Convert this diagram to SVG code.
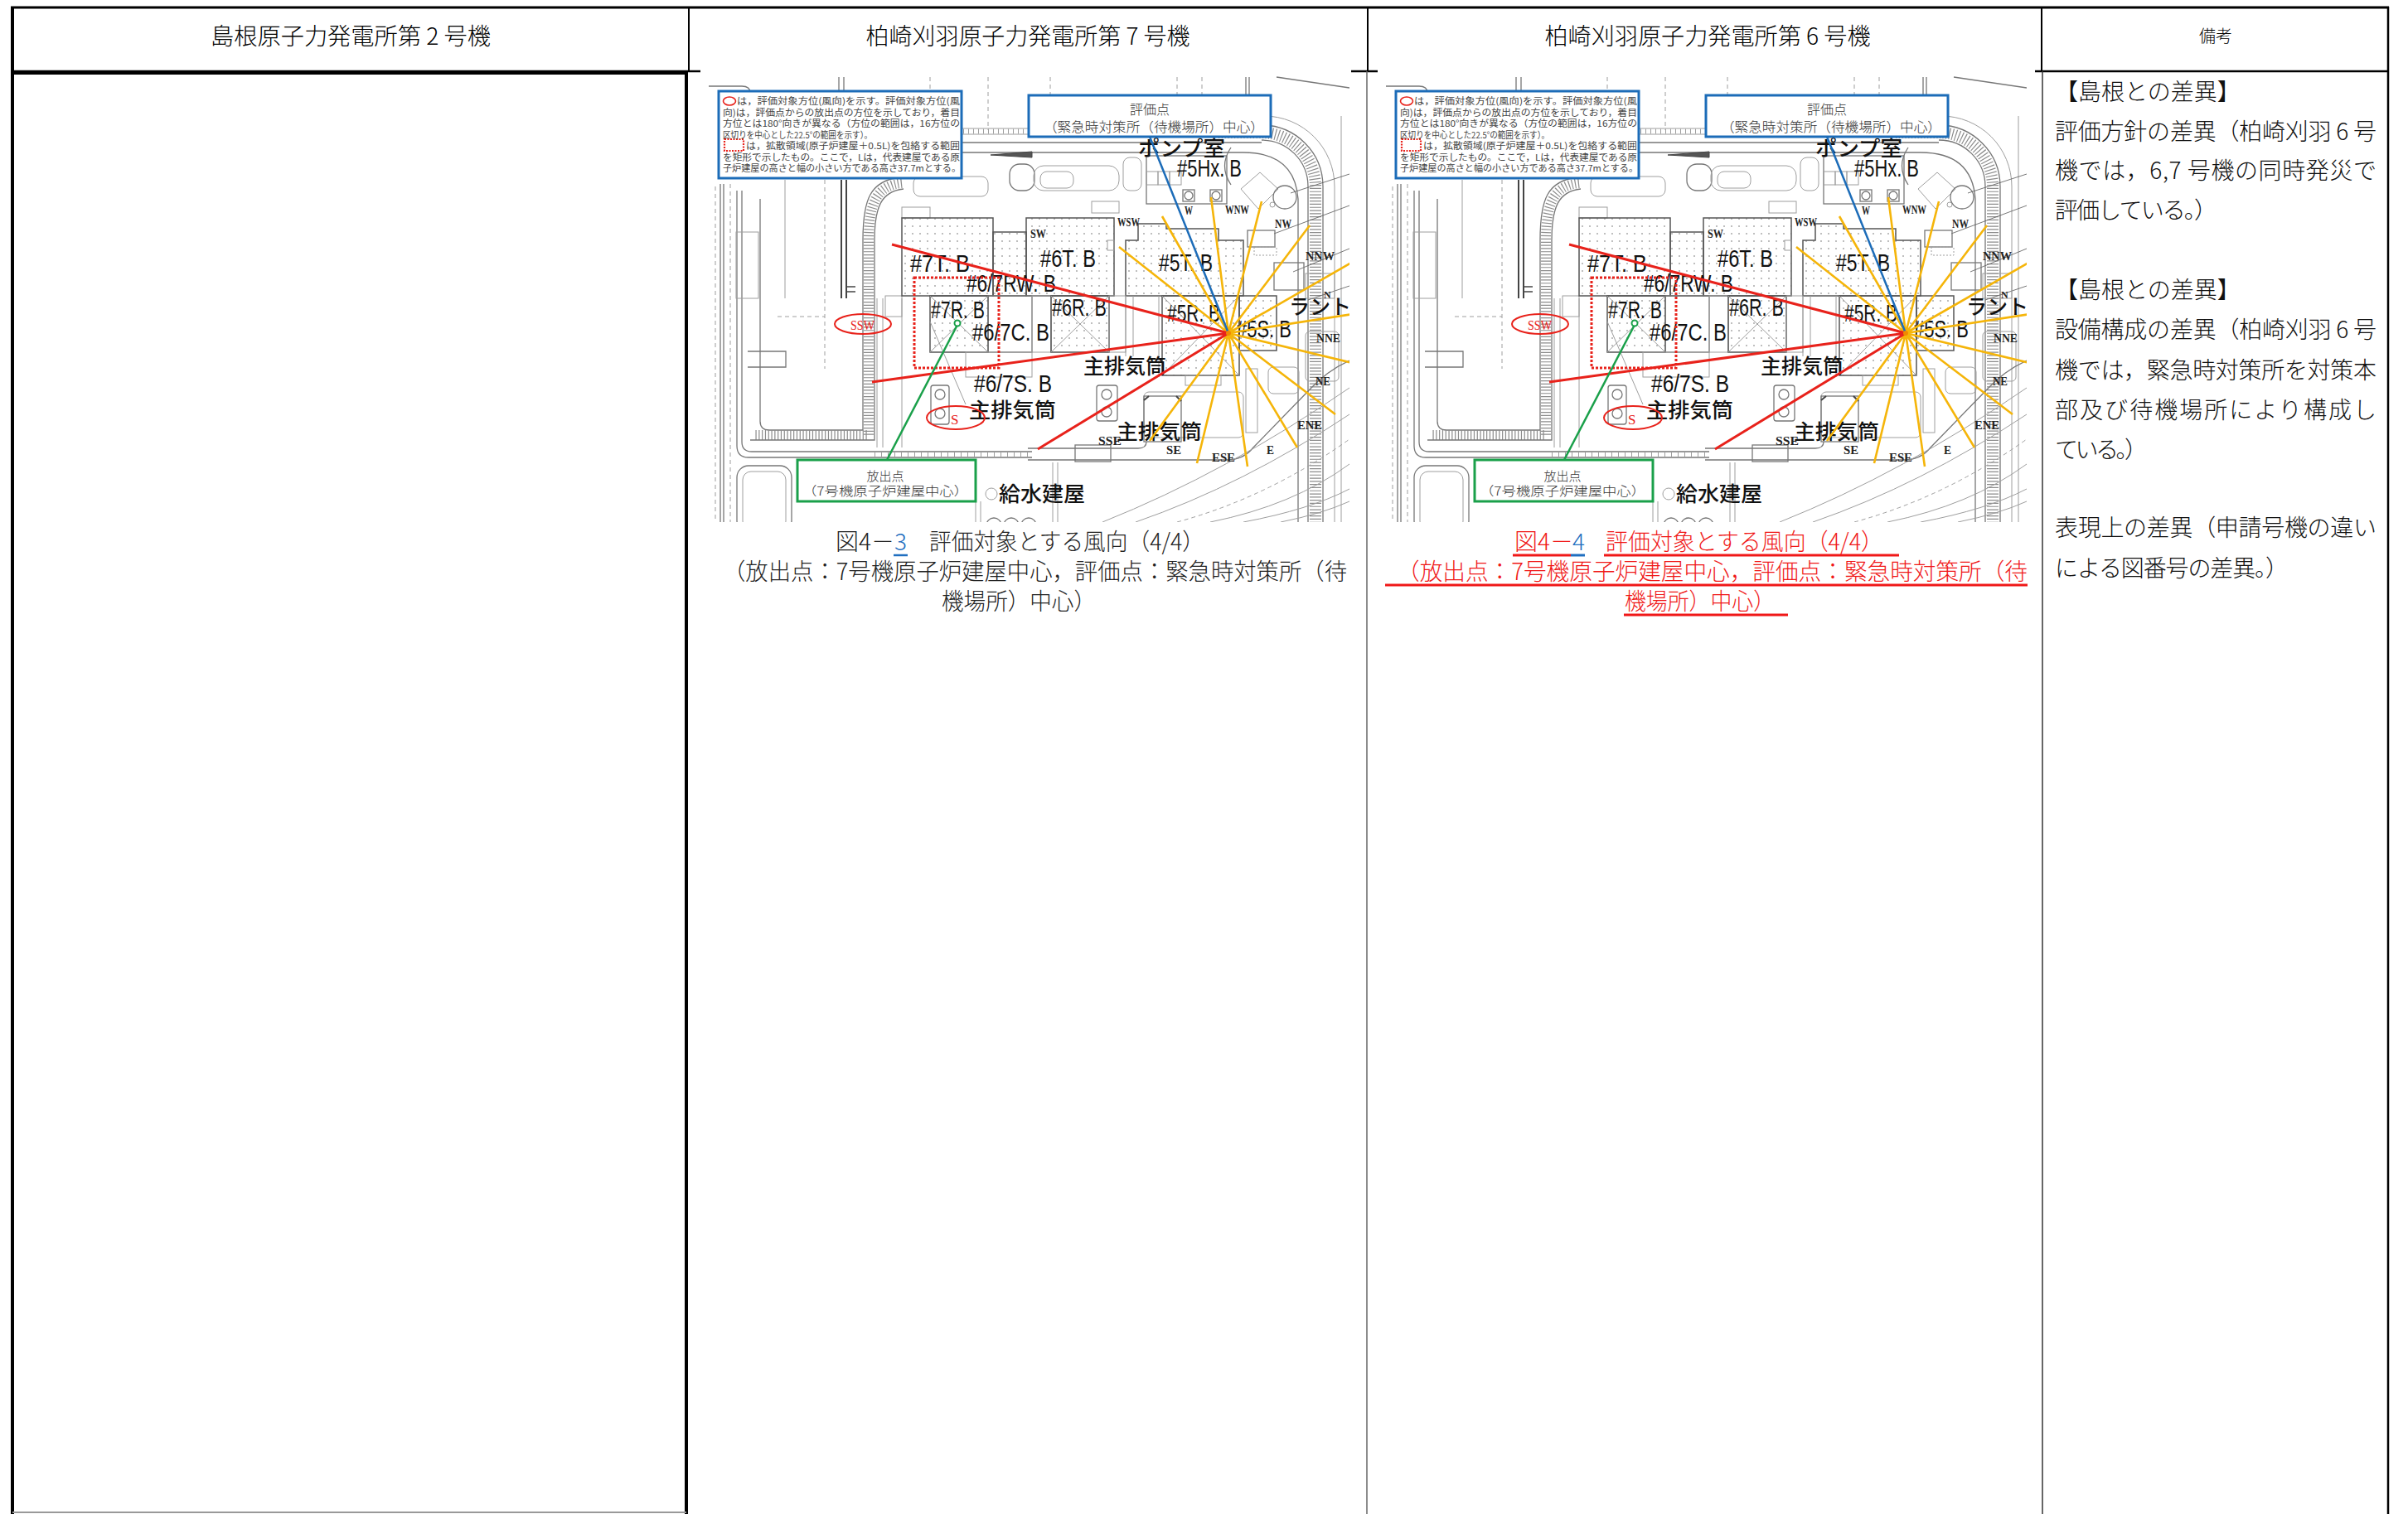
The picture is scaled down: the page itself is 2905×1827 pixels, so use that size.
<svg xmlns="http://www.w3.org/2000/svg" width="2905" height="1827" viewBox="0 0 2905 1827">
<defs>
<style>
.jp{font-family:"Noto Sans CJK JP","Noto Sans",sans-serif}
.hd{font-size:28px;fill:#000;text-anchor:middle;font-weight:300}
.rm{font-size:28px;fill:#111;font-weight:300}
.cap{font-size:28px;fill:#222;font-weight:300}
.capr{font-size:28px;fill:#f01818;font-weight:300}
.blu{fill:#1f6fc0}
.lg{font-size:11px;fill:#444}
.bx{font-size:16px;fill:#333;text-anchor:middle;font-weight:300}
.bl{font-family:"Liberation Sans",sans-serif;font-size:29px;fill:#111}
.jl{font-size:25px;fill:#111;font-weight:500}
.dr{font-family:"Liberation Serif",serif;font-weight:bold;font-size:14px;fill:#222}
.drr{font-family:"Liberation Serif",serif;font-size:17px;fill:#e8221b}
.c1{fill:none;stroke:#777;stroke-width:1.3}
.c2{fill:none;stroke:#9e9e9e;stroke-width:1}
.cd{fill:none;stroke:#9e9e9e;stroke-width:1;stroke-dasharray:5 4}
.dk{fill:none;stroke:#444;stroke-width:2}
.hatch{fill:none;stroke:#8c8c8c;stroke-width:12;stroke-dasharray:1.2 2.6}
.bld{fill:url(#dots);stroke:#555;stroke-width:1.5}
.rl{stroke:#e8221b;stroke-width:3;fill:none}
.yl{stroke:#f5b50a;stroke-width:2.6;fill:none}
.bln{stroke:#1c6cb8;stroke-width:2.5;fill:none}
.gl{stroke:#1aa04a;stroke-width:2.5;fill:none}
.tb{stroke:#000;fill:none}
</style>
<pattern id="dots" width="9" height="9" patternUnits="userSpaceOnUse">
<circle cx="3" cy="3" r="0.9" fill="#a0a0a0"/>
</pattern>
<clipPath id="mapclip"><rect x="845" y="88" width="783" height="542"/></clipPath>
<g id="map">
<g clip-path="url(#mapclip)">
<g id="cad">
<path class="c1" d="M855,104 H895 Q905,104 905,112"/>
<path class="c1" d="M1012,93 V110 M1018,93 V110"/>
<path class="cd" d="M1122,93 V157 M1192,93 V157 M1267,93 V115 M1420,93 V115 M1450,93 V115"/>
<path class="c1" d="M1503,93 V152 M1507,93 V150"/>
<path class="c1" d="M1540,93 L1628,106"/>
<path class="cd" d="M863,225 V630 M881,222 V630"/>
<path class="c1" d="M869,222 V630 M873,222 V630"/>
<path class="c1" d="M889,230 V538 Q889,552 903,552 H1245"/>
<path class="c1" d="M895,230 V533 Q895,545 907,545 H1245"/>
<path class="c2" d="M1055,548.5 H1245" style="stroke-dasharray:1 7;stroke-width:6"/>
<rect class="c2" x="888" y="280" width="27" height="80"/>
<path class="c1" d="M917,240 V508 Q917,519 928,519 H1041"/>
<path class="c2" d="M947,217 V360"/>
<path class="cd" d="M995,217 V382 M938,382 H995 V445"/>
<path class="hatch" d="M1088,221 C1058,224 1048,245 1048,290 V525 H910"/>
<path class="c1" d="M1086,214 C1050,218 1041,240 1041,290 V519"/>
<path class="c1" d="M1090,228 C1063,231 1055,250 1055,290 V531 H905"/>
<path class="dk" d="M1015,217 V360 M1021,217 V360"/>
<path class="c1" d="M902,424 H948 V443 H902"/>
<rect class="c1" x="889" y="562" width="66" height="80" rx="14"/>
<rect class="c2" x="896" y="569" width="52" height="70" rx="10"/>
<path class="c2" d="M1058,360 V540 M1065,360 V540 M1088,360 V540"/>
<rect class="c2" x="1068" y="357" width="20" height="25"/>
<path class="dk" d="M1020,346 H1032 M1020,352 H1032" style="stroke-width:1.5"/>
<path class="c2" d="M1072,155 H1245 M1072,162 H1245"/>
<path class="c2" d="M1072,158.5 H1245" style="stroke-dasharray:1 5;stroke-width:6"/>
<path class="c1" d="M1086,214 Q1105,178 1160,172 H1522"/>
<path class="c1" d="M1160,184 H1500 Q1562,184 1566,240 V630"/>
<path class="dk" d="M1195,187 L1245,183 L1245,190 Z" style="fill:#555;stroke-width:1"/>
<path class="hatch" d="M1470,160 H1522 A65,65 0 0 1 1587,225 V630" style="stroke-width:14"/>
<path class="c1" d="M1522,169 A56,56 0 0 1 1578,225 V630"/>
<path class="c1" d="M1480,151 H1522 A74,74 0 0 1 1596,225 V630"/>
<path class="c2" d="M1505,140 H1525 A85,85 0 0 1 1610,225 V630"/>
<path class="c2" d="M1618,140 V630"/>
<rect class="c2" x="1102" y="213" width="90" height="24" rx="8"/>
<rect class="c1" x="1218" y="198" width="30" height="32" rx="12"/>
<rect class="c2" x="1247" y="200" width="103" height="30" rx="12"/>
<rect class="c2" x="1255" y="207" width="40" height="20" rx="8"/>
<rect class="c2" x="1355" y="190" width="22" height="40" rx="8"/>
<rect class="c2" x="1088" y="250" width="34" height="13"/>
<rect class="c2" x="1317" y="243" width="33" height="14"/>
<rect class="c1" x="1383" y="188" width="97" height="58"/>
<rect class="c2" x="1383" y="207" width="14" height="16"/>
<rect class="c2" x="1397" y="207" width="14" height="16"/>
<rect class="c2" x="1411" y="207" width="14" height="16"/>
<rect class="c1" x="1427" y="229" width="14" height="14"/>
<circle class="c1" cx="1434" cy="236" r="5"/>
<rect class="c1" x="1460" y="229" width="14" height="14"/>
<circle class="c1" cx="1467" cy="236" r="5"/>
<path class="c1" d="M1485,178 Q1470,200 1485,223"/>
<polygon class="c2" points="1497,228 1520,208 1542,228 1518,252"/>
<circle class="c1" cx="1550" cy="238" r="14"/>
<circle class="c2" cx="1535" cy="247" r="3"/>
<path d="M1557,233 L1628,210 M1537,282 L1628,248 M1560,328 L1628,300 M1578,362 L1628,345" stroke="#555" stroke-width="0.8" fill="none"/>
<rect class="c1" x="1505" y="278" width="33" height="20"/>
<rect class="c2" x="1513" y="298" width="27" height="10" style="stroke-dasharray:2 2"/>
<rect class="c1" x="1537" y="317" width="36" height="33"/>
<rect class="c2" x="1575" y="330" width="35" height="30"/>
<rect class="c2" x="1575" y="400" width="40" height="60" rx="5"/>
</g>
<g id="buildings">
<rect class="bld" x="1088" y="263" width="110" height="94"/>
<rect class="bld" x="1198" y="280" width="40" height="77"/>
<rect class="bld" x="1238" y="263" width="106" height="94"/>
<rect class="c2" x="1336" y="290" width="8" height="12"/>
<polygon class="bld" points="1358,290 1373,290 1373,270 1407,270 1407,276 1470,276 1470,290 1500,290 1500,357 1358,357"/>
<rect class="bld" x="1122" y="357" width="70" height="68"/>
<path class="c2" d="M1122,357 L1192,425 M1192,357 L1122,425 M1122,388 L1165,488"/>
<rect class="c1" x="1192" y="357" width="53" height="68"/>
<rect class="c2" x="1245" y="357" width="23" height="68"/>
<rect class="bld" x="1268" y="357" width="70" height="68"/>
<path class="c2" d="M1268,357 L1338,425 M1338,357 L1268,425"/>
<rect class="c2" x="1338" y="357" width="20" height="68"/>
<path class="c2" d="M1358,357 V430 M1367,357 V430 M1398,357 V455"/>
<rect class="bld" x="1402" y="357" width="93" height="96"/>
<path class="c2" d="M1402,357 L1495,453 M1495,357 L1402,453"/>
<rect class="bld" x="1495" y="357" width="45" height="66"/>
<rect class="c2" x="1165" y="425" width="80" height="30"/>
<rect class="c2" x="1430" y="453" width="43" height="12"/>
<rect class="c1" x="1123" y="465" width="22" height="47" rx="3"/>
<circle class="c1" cx="1134" cy="476" r="6"/>
<circle class="c1" cx="1134" cy="499" r="6"/>
<rect class="c1" x="1323" y="465" width="25" height="43" rx="3"/>
<circle class="c1" cx="1335" cy="476" r="6"/>
<circle class="c1" cx="1335" cy="497" r="6"/>
<rect class="c2" x="1380" y="473" width="120" height="55" rx="6"/>
<rect class="c1" x="1380" y="478" width="45" height="55"/>
<path class="dk" d="M1380,483 L1386,478 M1419,478 L1425,484"/>
<rect class="c2" x="1503" y="445" width="14" height="77"/>
<rect class="c2" x="1530" y="443" width="37" height="32" rx="6"/>
<rect class="c1" x="1297" y="537" width="43" height="20"/>
<path class="c1" d="M1240,541 H1373 Q1383,541 1383,533"/>
<path class="c1" d="M1240,555 H1480 Q1500,555 1512,540 L1580,470 Q1600,448 1628,435"/>
<path class="c2" d="M1330,630 Q1480,570 1628,468"/>
<path class="c2" d="M1370,630 Q1500,585 1628,500"/>
<path class="cd" d="M1420,630 Q1530,600 1628,530"/>
<path class="c2" d="M1460,630 Q1560,610 1628,560"/>
<path class="c2" d="M1500,630 Q1580,615 1628,590"/>
<path class="c2" d="M1545,630 Q1595,620 1628,605"/>
<path class="c2" d="M1270,558 V630 M1276,558 V630 M1177,605 V630 M1183,605 V630"/>
<circle class="c1" cx="1199" cy="634" r="9"/>
<circle class="c1" cx="1220" cy="634" r="9"/>
<circle class="c1" cx="1241" cy="634" r="9"/>
<circle class="c2" cx="1196" cy="596" r="7"/>
</g>
<g id="labels">
<text class="bl" x="1098" y="328" textLength="72" lengthAdjust="spacingAndGlyphs">#7T. B</text>
<text class="bl" x="1166" y="352" textLength="108" lengthAdjust="spacingAndGlyphs">#6/7RW. B</text>
<text class="bl" x="1255" y="322" textLength="67" lengthAdjust="spacingAndGlyphs">#6T. B</text>
<text class="bl" x="1398" y="327" textLength="65" lengthAdjust="spacingAndGlyphs">#5T. B</text>
<text class="bl" x="1420" y="213" textLength="78" lengthAdjust="spacingAndGlyphs">#5Hx. B</text>
<text class="bl" x="1123" y="384" textLength="65" lengthAdjust="spacingAndGlyphs">#7R. B</text>
<text class="bl" x="1173" y="411" textLength="93" lengthAdjust="spacingAndGlyphs">#6/7C. B</text>
<text class="bl" x="1269" y="381" textLength="66" lengthAdjust="spacingAndGlyphs">#6R. B</text>
<text class="bl" x="1408" y="388" textLength="64" lengthAdjust="spacingAndGlyphs">#5R. B</text>
<text class="bl" x="1492" y="407" textLength="66" lengthAdjust="spacingAndGlyphs">#5S. B</text>
<text class="bl" x="1175" y="473" textLength="94" lengthAdjust="spacingAndGlyphs">#6/7S. B</text>
<text class="jp jl" x="1373" y="188" textLength="105" lengthAdjust="spacingAndGlyphs">ポンプ室</text>
<text class="jp jl" x="1307" y="451" textLength="100" lengthAdjust="spacingAndGlyphs">主排気筒</text>
<text class="jp jl" x="1347" y="530" textLength="103" lengthAdjust="spacingAndGlyphs">主排気筒</text>
<text class="jp jl" x="1169" y="504" textLength="105" lengthAdjust="spacingAndGlyphs">主排気筒</text>
<text class="jp jl" x="1205" y="605" textLength="104" lengthAdjust="spacingAndGlyphs">給水建屋</text>
<text class="jp jl" x="1555" y="379" textLength="75" lengthAdjust="spacingAndGlyphs">ラント</text>
<text class="dr" x="1243" y="287" textLength="19" lengthAdjust="spacingAndGlyphs">SW</text>
<text class="dr" x="1348" y="273" textLength="27" lengthAdjust="spacingAndGlyphs">WSW</text>
<text class="dr" x="1429" y="259" textLength="10" lengthAdjust="spacingAndGlyphs">W</text>
<text class="dr" x="1478" y="258" textLength="29" lengthAdjust="spacingAndGlyphs">WNW</text>
<text class="dr" x="1538" y="275" textLength="20" lengthAdjust="spacingAndGlyphs">NW</text>
<text class="dr" x="1575" y="314" textLength="35" lengthAdjust="spacingAndGlyphs">NNW</text>
<text class="dr" x="1597" y="360" style="font-size:12px">N</text>
<text class="dr" x="1588" y="413" textLength="29" lengthAdjust="spacingAndGlyphs">NNE</text>
<text class="dr" x="1587" y="465" textLength="18" lengthAdjust="spacingAndGlyphs">NE</text>
<text class="dr" x="1565" y="518" textLength="30" lengthAdjust="spacingAndGlyphs">ENE</text>
<text class="dr" x="1528" y="548" textLength="9" lengthAdjust="spacingAndGlyphs">E</text>
<text class="dr" x="1462" y="557" textLength="28" lengthAdjust="spacingAndGlyphs">ESE</text>
<text class="dr" x="1407" y="548" textLength="18" lengthAdjust="spacingAndGlyphs">SE</text>
<text class="dr" x="1325" y="537" textLength="28" lengthAdjust="spacingAndGlyphs">SSE</text>
<ellipse cx="1041" cy="391" rx="34" ry="12" fill="none" stroke="#e8221b" stroke-width="2"/>
<text class="drr" x="1026" y="398" textLength="29" lengthAdjust="spacingAndGlyphs">SSW</text>
<ellipse cx="1153" cy="504" rx="35" ry="14" fill="none" stroke="#e8221b" stroke-width="2"/>
<text class="drr" x="1147" y="512">S</text>
<rect x="1103" y="335" width="102" height="109" fill="none" stroke="#e8221b" stroke-width="3" stroke-dasharray="3 2"/>
</g>
<g id="connectors">
<path class="yl" d="M1482,402 L1350,298 M1482,402 L1402,261 M1482,402 L1461,238 M1482,402 L1522,243 M1482,402 L1580,272 M1482,402 L1632,316 M1482,402 L1632,379 M1482,402 L1632,438 M1482,402 L1611,500 M1482,402 L1565,540 M1482,402 L1505,563 M1482,402 L1444,559 M1482,402 L1387,532"/>
<path class="rl" d="M1076,295 L1482,402 M1052,461 L1482,402 M1252,542 L1482,402"/>
<path class="bln" d="M1387,165 L1482,402"/>
<path class="gl" d="M1070,555 L1155,392"/>
<circle cx="1155" cy="390" r="3.5" fill="#fff" stroke="#1aa04a" stroke-width="2"/>
<circle cx="1482" cy="402" r="3" fill="#f08a00"/>
</g>
<g id="legend">
<rect x="867" y="110" width="293" height="105" fill="#fff" stroke="#1c6cb8" stroke-width="3"/>
<ellipse cx="880" cy="122" rx="7.5" ry="5" fill="none" stroke="#e8221b" stroke-width="1.6"/>
<rect x="874" y="168" width="23" height="14" fill="none" stroke="#e8221b" stroke-width="2.2" stroke-dasharray="2 1.5"/>
<text class="jp lg" x="889" y="126" textLength="269" lengthAdjust="spacingAndGlyphs">は，評価対象方位(風向)を示す。評価対象方位(風</text>
<text class="jp lg" x="872" y="139.5" textLength="286" lengthAdjust="spacingAndGlyphs">向)は，評価点からの放出点の方位を示しており，着目</text>
<text class="jp lg" x="872" y="153" textLength="286" lengthAdjust="spacingAndGlyphs">方位とは180°向きが異なる（方位の範囲は，16方位の</text>
<text class="jp lg" x="872" y="166.5" textLength="180" lengthAdjust="spacingAndGlyphs">区切りを中心とした22.5°の範囲を示す）。</text>
<text class="jp lg" x="900" y="180" textLength="258" lengthAdjust="spacingAndGlyphs">は，拡散領域(原子炉建屋＋0.5L)を包絡する範囲</text>
<text class="jp lg" x="872" y="193.5" textLength="286" lengthAdjust="spacingAndGlyphs">を矩形で示したもの。ここで，Lは，代表建屋である原</text>
<text class="jp lg" x="872" y="207" textLength="287" lengthAdjust="spacingAndGlyphs">子炉建屋の高さと幅の小さい方である高さ37.7mとする。</text>
</g>
<g id="eval-point">
<rect x="1241" y="115" width="292" height="50" fill="#fff" stroke="#1c6cb8" stroke-width="3"/>
<text class="jp bx" x="1387" y="138">評価点</text>
<text class="jp bx" x="1392" y="159" textLength="266" lengthAdjust="spacingAndGlyphs">（緊急時対策所（待機場所）中心）</text>
</g>
<g id="release-point">
<rect x="962" y="555" width="215" height="50" fill="#fff" stroke="#1aa04a" stroke-width="3"/>
<text class="jp bx" x="1068" y="580" style="font-size:15px">放出点</text>
<text class="jp bx" x="1068" y="598" style="font-size:15px" textLength="200" lengthAdjust="spacingAndGlyphs">（7号機原子炉建屋中心）</text>
</g>
</g>
</g>
</defs>
<rect x="0" y="0" width="2905" height="1827" fill="#fff"/>
<g id="table">
<path class="tb" d="M13,9 H2882" stroke-width="3"/>
<path class="tb" d="M15,8 V1827" stroke-width="4"/>
<path class="tb" d="M2881,8 V1827" stroke-width="2.5"/>
<path class="tb" d="M831,9 V86 M1650,9 V86 M2463,9 V86" stroke-width="2"/>
<path class="tb" d="M15,86 H845 M1630,86 H1662 M2455,86 H2881" stroke-width="2.5"/>
<path class="tb" d="M15,88 H829" stroke-width="4"/>
<path class="tb" d="M828,86 V1827" stroke-width="4"/>
<path d="M15,1825 H828" stroke="#999" stroke-width="2"/>
<path d="M1649,86 V1827" stroke="#666" stroke-width="1.5"/>
<path d="M2464,86 V1827" stroke="#333" stroke-width="1.5"/>
</g>
<g id="headers">
<text class="jp hd" x="423" y="54" textLength="338" lengthAdjust="spacingAndGlyphs">島根原子力発電所第 2 号機</text>
<text class="jp hd" x="1240" y="54" textLength="391" lengthAdjust="spacingAndGlyphs">柏崎刈羽原子力発電所第 7 号機</text>
<text class="jp hd" x="2060" y="54" textLength="393" lengthAdjust="spacingAndGlyphs">柏崎刈羽原子力発電所第 6 号機</text>
<text class="jp hd" x="2673" y="51" style="font-size:20px">備考</text>
</g>
<g id="fig-k7">
<use href="#map"/>
<text class="jp cap" x="1008" y="664">図4－</text>
<text class="jp cap blu" x="1079" y="664">3</text>
<path d="M1078,670 H1095" stroke="#1f6fc0" stroke-width="2.5"/>
<text class="jp cap" x="1121" y="664" textLength="332" lengthAdjust="spacingAndGlyphs">評価対象とする風向（4/4）</text>
<text class="jp cap" x="872" y="700" textLength="753" lengthAdjust="spacingAndGlyphs">（放出点：7号機原子炉建屋中心，評価点：緊急時対策所（待</text>
<text class="jp cap" x="1136" y="736" textLength="186" lengthAdjust="spacingAndGlyphs">機場所）中心）</text>
</g>
<g id="fig-k6">
<use href="#map" transform="translate(817,0)"/>
<text class="jp capr" x="1827" y="664">図4－</text>
<text class="jp cap blu" x="1897" y="664">4</text>
<text class="jp capr" x="1937" y="664" textLength="335" lengthAdjust="spacingAndGlyphs">評価対象とする風向（4/4）</text>
<path d="M1825,670 H1895 M1935,670 H2291 M1671,706 H2446 M1959,742 H2157" stroke="#f01818" stroke-width="3"/>
<path d="M1895,670 H1912" stroke="#1f6fc0" stroke-width="3"/>
<text class="jp capr" x="1685" y="700" textLength="761" lengthAdjust="spacingAndGlyphs">（放出点：7号機原子炉建屋中心，評価点：緊急時対策所（待</text>
<text class="jp capr" x="1960" y="736" textLength="181" lengthAdjust="spacingAndGlyphs">機場所）中心）</text>
</g>
<g id="remarks">
<text class="jp rm" x="2479" y="121">【島根との差異】</text>
<text class="jp rm" x="2479" y="169" textLength="388" lengthAdjust="spacing">評価方針の差異（柏崎刈羽 6 号</text>
<text class="jp rm" x="2479" y="216" textLength="388" lengthAdjust="spacing">機では，6,7 号機の同時発災で</text>
<text class="jp rm" x="2479" y="264" textLength="196" lengthAdjust="spacing">評価している。）</text>
<text class="jp rm" x="2479" y="360">【島根との差異】</text>
<text class="jp rm" x="2479" y="408" textLength="388" lengthAdjust="spacing">設備構成の差異（柏崎刈羽 6 号</text>
<text class="jp rm" x="2479" y="457" textLength="388" lengthAdjust="spacing">機では，緊急時対策所を対策本</text>
<text class="jp rm" x="2479" y="505" textLength="388" lengthAdjust="spacing">部及び待機場所により構成し</text>
<text class="jp rm" x="2479" y="553" textLength="112" lengthAdjust="spacing">ている。）</text>
<text class="jp rm" x="2479" y="647" textLength="388" lengthAdjust="spacing">表現上の差異（申請号機の違い</text>
<text class="jp rm" x="2479" y="696" textLength="282" lengthAdjust="spacing">による図番号の差異。）</text>
</g>
</svg>
